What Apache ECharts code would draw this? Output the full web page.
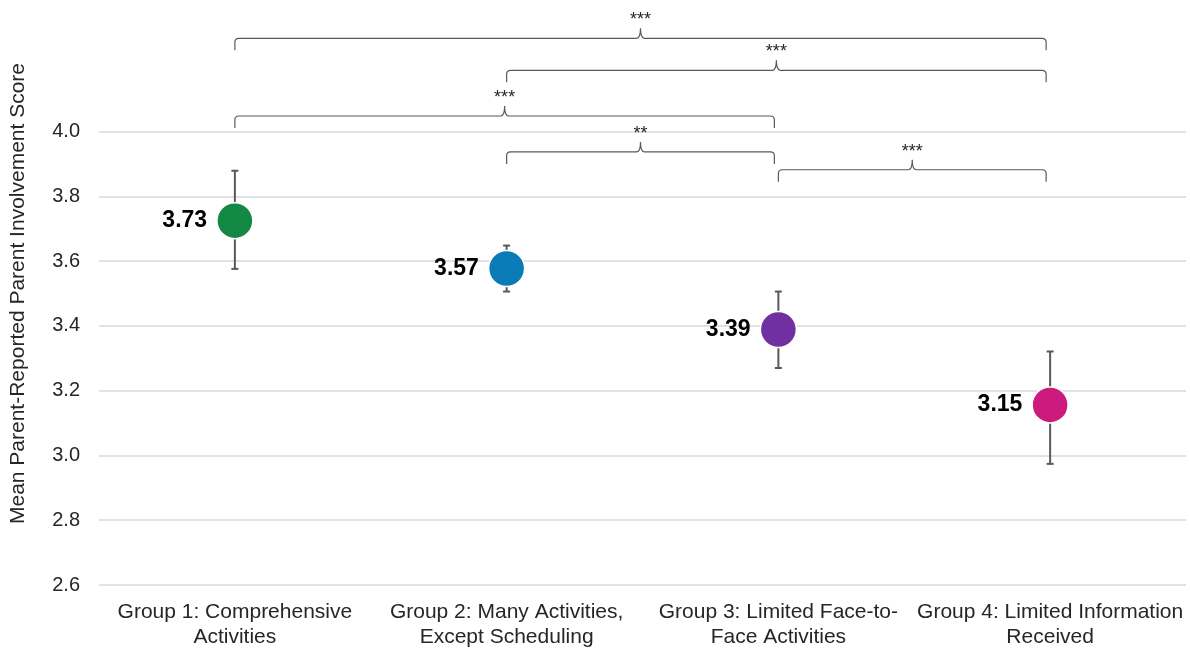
<!DOCTYPE html>
<html>
<head>
<meta charset="utf-8">
<script src="https://cdn.jsdelivr.net/npm/echarts@6/dist/echarts.min.js"></script>
<style>
    html, body { margin: 0; padding: 0; background: #fff; }
    #chart { width: 1190px; height: 650px; }
</style>
</head>
<body>
<div id="chart"></div>
<script>
    // groups on the x axis
    var groups = [
        'Group 1: Comprehensive\nActivities',
        'Group 2: Many Activities,\nExcept Scheduling',
        'Group 3: Limited Face-to-\nFace Activities',
        'Group 4: Limited Information\nReceived'
    ];
    // means, labels and error bar ends
    var means = [3.725, 3.577, 3.389, 3.156];
    var meanLabels = ['3.73', '3.57', '3.39', '3.15'];
    var errLow = [3.576, 3.506, 3.270, 2.974];
    var errHigh = [3.879, 3.648, 3.506, 3.321];
    var dotColors = ['#138744', '#0b7bb8', '#7030a0', '#cc1b7c'];
    // significance brackets: from group, to group, height, stars
    var bracketFrom = [0, 1, 0, 1, 2];
    var bracketTo = [3, 3, 2, 2, 3];
    var bracketLevel = [4.288, 4.189, 4.048, 3.937, 3.882];
    var bracketStars = ['***', '***', '***', '**', '***'];
    // y ticks
    var yMin = 2.6, yMax = 4.4, yStep = 0.2, yLabelTop = 4.0;

    var chart = echarts.init(document.getElementById('chart'));

    var lineColor = '#595959';
    var fontFam = 'Liberation Sans, Arial, sans-serif';

    var option = {
        backgroundColor: '#fff',
        animation: false,
        grid: { top: 2, left: 99, right: 4, bottom: 63 },
        xAxis: {
            type: 'category',
            data: groups,
            boundaryGap: true,
            axisLine: { show: false },
            axisTick: { show: false },
            axisLabel: {
                interval: 0,
                margin: 15,
                fontFamily: fontFam,
                fontSize: 21,
                lineHeight: 25,
                color: '#262626'
            }
        },
        yAxis: {
            type: 'value',
            min: yMin,
            max: yMax,
            interval: yStep,
            name: 'Mean Parent-Reported Parent Involvement Score',
            nameLocation: 'middle',
            nameGap: 70,
            nameTextStyle: {
                fontFamily: fontFam,
                fontSize: 21,
                color: '#262626'
            },
            axisLine: { show: false },
            axisTick: { show: false },
            axisLabel: {
                margin: 19,
                fontFamily: fontFam,
                fontSize: 20,
                color: '#262626',
                formatter: function (v) {
                    return v > yLabelTop + 1e-6 ? '' : v.toFixed(1);
                }
            },
            splitLine: {
                lineStyle: {
                    width: 1.5,
                    // hide the grid lines above 4.0
                    color: ['#d9d9d9', '#d9d9d9', '#d9d9d9', '#d9d9d9', '#d9d9d9',
                        '#d9d9d9', '#d9d9d9', '#d9d9d9', 'rgba(0,0,0,0)', 'rgba(0,0,0,0)']
                }
            }
        },
        series: [
            {
                // error bars
                type: 'custom',
                z: 1,
                data: groups.map(function (g, i) { return [i, errLow[i], errHigh[i]]; }),
                renderItem: function (params, api) {
                    var lo = api.coord([api.value(0), api.value(1)]);
                    var hi = api.coord([api.value(0), api.value(2)]);
                    var cap = 3.5;
                    var style = { stroke: lineColor, lineWidth: 2 };
                    return {
                        type: 'group',
                        children: [
                            { type: 'line', shape: { x1: lo[0], y1: lo[1], x2: hi[0], y2: hi[1] }, style: style },
                            { type: 'line', shape: { x1: lo[0] - cap, y1: lo[1], x2: lo[0] + cap, y2: lo[1] }, style: style },
                            { type: 'line', shape: { x1: hi[0] - cap, y1: hi[1], x2: hi[0] + cap, y2: hi[1] }, style: style }
                        ]
                    };
                }
            },
            {
                // mean dots
                type: 'scatter',
                z: 3,
                symbolSize: 36,
                data: means.map(function (m, i) {
                    return {
                        value: [i, m],
                        itemStyle: { color: dotColors[i] },
                        label: { formatter: meanLabels[i] }
                    };
                }),
                itemStyle: { borderColor: '#fff', borderWidth: 1.5, opacity: 1 },
                label: {
                    show: true,
                    position: 'left',
                    distance: 9,
                    fontFamily: fontFam,
                    fontSize: 23,
                    fontWeight: 'bold',
                    color: '#000'
                }
            },
            {
                // significance brackets
                type: 'custom',
                z: 2,
                data: bracketLevel.map(function (lv, i) {
                    return [bracketFrom[i], bracketTo[i], lv];
                }),
                renderItem: function (params, api) {
                    var a = api.coord([api.value(0), api.value(2)]);
                    var b = api.coord([api.value(1), api.value(2)]);
                    var x1 = a[0], x2 = b[0] - 4, y = a[1];
                    var xm = (x1 + x2) / 2;
                    var d = 12, r = 4, h = 10, w = 4;
                    var path = 'M' + x1 + ',' + (y + d) +
                        ' L' + x1 + ',' + (y + r) +
                        ' Q' + x1 + ',' + y + ' ' + (x1 + r) + ',' + y +
                        ' L' + (xm - w) + ',' + y +
                        ' Q' + xm + ',' + y + ' ' + xm + ',' + (y - h) +
                        ' Q' + xm + ',' + y + ' ' + (xm + w) + ',' + y +
                        ' L' + (x2 - r) + ',' + y +
                        ' Q' + x2 + ',' + y + ' ' + x2 + ',' + (y + r) +
                        ' L' + x2 + ',' + (y + d);
                    return {
                        type: 'group',
                        children: [
                            {
                                type: 'path',
                                shape: { pathData: path },
                                style: { stroke: lineColor, lineWidth: 1.2, fill: null }
                            },
                            {
                                type: 'text',
                                style: {
                                    text: bracketStars[params.dataIndex],
                                    x: xm,
                                    y: y - h + 1,
                                    align: 'center',
                                    verticalAlign: 'bottom',
                                    font: '18px "Liberation Sans", Arial, sans-serif',
                                    fill: '#262626'
                                }
                            }
                        ]
                    };
                }
            }
        ]
    };
    chart.setOption(option);
</script>
</body>
</html>
